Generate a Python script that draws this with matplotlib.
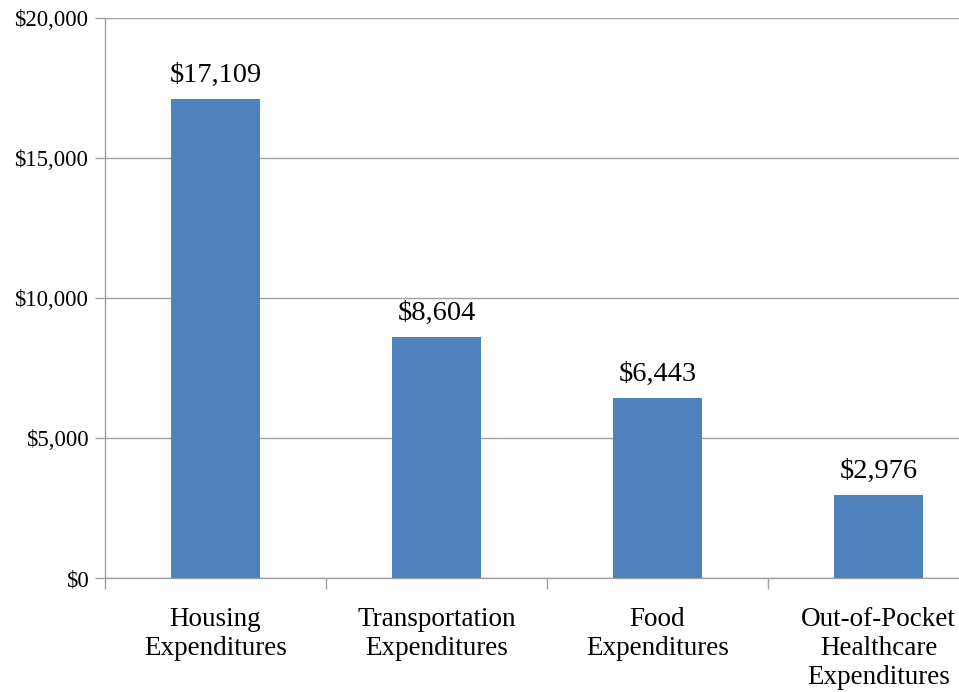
import matplotlib
matplotlib.use("Agg")
import matplotlib.pyplot as plt
import numpy as np

categories = ["Housing\nExpenditures", "Transportation\nExpenditures", "Food\nExpenditures",
              "Out-of-Pocket\nHealthcare\nExpenditures"]
values = [17109, 8604, 6443, 2976]
value_labels = ["$17,109", "$8,604", "$6,443", "$2,976"]
yticks = [0, 5000, 10000, 15000, 20000]
ytick_labels = ["$0", "$5,000", "$10,000", "$15,000", "$20,000"]

plt.rcParams['font.family'] = ['Liberation Serif', 'DejaVu Serif']

fig = plt.figure(figsize=(9.59, 6.92), dpi=100)
W, H = 959, 692
ax = fig.add_axes([105 / W, 114 / H, 884 / W, 560 / H])

x = np.arange(len(categories))
bars = ax.bar(x, values, width=0.4, color="#4F81BD", zorder=3)

ax.set_xlim(-0.5, len(categories) - 0.5)
ax.set_ylim(0, 20000)
ax.set_yticks(yticks)
ax.set_yticklabels(ytick_labels, fontsize=16.5)
ax.set_xticks(x)
ax.set_xticklabels(categories, fontsize=19.5, linespacing=1.2)
ax.tick_params(axis='x', which='major', length=0, pad=21)
ax.set_xticks(np.arange(-0.5, len(categories), 1.0), minor=True)
ax.tick_params(axis='x', which='minor', length=8, color="#A0A0A0", width=1)
ax.tick_params(axis='y', length=7, color="#A0A0A0", width=1, pad=5)

ax.grid(axis='y', color="#A0A0A0", linewidth=1, zorder=0)
for s in ['top', 'right']:
    ax.spines[s].set_visible(False)
for s in ['left', 'bottom']:
    ax.spines[s].set_color("#A0A0A0")
    ax.spines[s].set_linewidth(1)

for xi, v, lab in zip(x, values, value_labels):
    ax.annotate(lab, (xi, v), xytext=(0, 8), textcoords='offset points',
                ha='center', va='bottom', fontsize=20.5)

fig.savefig("out.png", dpi=100)
